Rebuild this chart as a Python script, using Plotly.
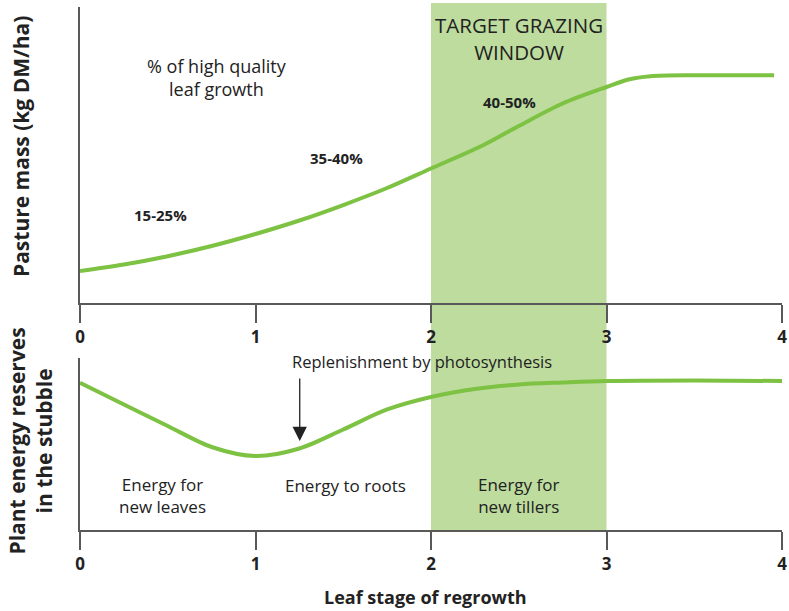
import plotly.graph_objects as go

# Data
leaf_stage_top = [0, 0.25, 0.5, 0.75, 1.0, 1.25, 1.5, 1.75, 2.0, 2.3, 2.5, 2.75, 3.0, 3.125, 3.25, 3.5, 3.75, 3.955]
pasture_mass = [32, 38.5, 46.8, 57, 69, 82.5, 98, 115, 134.5, 158, 177, 199.5, 216, 223.5, 226.8, 227.7, 227.7, 227.7]

leaf_stage_bot = [0, 0.25, 0.5, 0.75, 1.0, 1.25, 1.5, 1.75, 2.0, 2.25, 2.5, 2.75, 3.0, 3.5, 4.0]
energy_reserves = [147.3, 125.5, 104, 83, 74, 81.5, 100.5, 120.5, 133, 141, 145.5, 147.5, 149, 149.5, 149]

tick_vals = [0, 1, 2, 3, 4]
tick_text = ["0", "1", "2", "3", "4"]

window_start, window_end = 2, 3

GREEN = "#7DC242"
FILL = "#BDDC9E"
AXIS = "#595959"
TXT = "#222222"
FONT = "Open Sans"

fig = go.Figure()
fig.add_trace(go.Scatter(x=leaf_stage_top, y=pasture_mass, mode="lines",
                         line=dict(color=GREEN, width=4, shape="spline", smoothing=0.9),
                         xaxis="x", yaxis="y", hoverinfo="skip", showlegend=False))
fig.add_trace(go.Scatter(x=leaf_stage_bot, y=energy_reserves, mode="lines",
                         line=dict(color=GREEN, width=4, shape="spline", smoothing=0.9),
                         xaxis="x2", yaxis="y2", hoverinfo="skip", showlegend=False))

xcommon = dict(range=[0, 4], tickvals=tick_vals, ticktext=tick_text, showline=True,
               linecolor=AXIS, linewidth=1.5, ticks="outside", ticklen=18, tickwidth=1.5,
               tickcolor=AXIS, showgrid=False, zeroline=False, automargin=False,
               tickfont=dict(family=FONT, size=17, color=TXT, weight="bold"))
ycommon = dict(showline=True, linecolor=AXIS, linewidth=1.5, showticklabels=False,
               ticks="", showgrid=False, zeroline=False, automargin=False)

fig.update_layout(
    width=789, height=611,
    margin=dict(l=80, r=7, t=7, b=81, autoexpand=False),
    paper_bgcolor="white", plot_bgcolor="rgba(0,0,0,0)",
    xaxis=dict(domain=[0, 1], anchor="y", **xcommon),
    yaxis=dict(domain=[0.434, 1], range=[0, 296], anchor="x", **ycommon),
    xaxis2=dict(domain=[0, 1], anchor="y2", **xcommon),
    yaxis2=dict(domain=[0, 0.3289], range=[0, 172], anchor="x2", **ycommon),
    font=dict(family=FONT, color=TXT),
)

fig.add_shape(type="rect", xref="x", yref="paper", x0=window_start, x1=window_end,
              y0=0, y1=1.0076, fillcolor=FILL, line=dict(width=0), layer="below")

def ann(text, x, y, xref="x", yref="y", size=17, bold=False, **kw):
    fig.add_annotation(text=text, x=x, y=y, xref=xref, yref=yref, showarrow=False,
                       xanchor="center", yanchor="middle",
                       font=dict(family=FONT, size=size, color=TXT,
                                 weight="bold" if bold else "normal"), **kw)

# top annotations
ann("% of high quality<br>leaf growth", 0.78, 226, size=18)
ann("15-25%", 0.46, 88, size=15, bold=True)
ann("35-40%", 1.46, 145, size=15, bold=True)
ann("40-50%", 2.45, 201, size=15, bold=True)
ann("TARGET GRAZING<br>WINDOW", 2.5, 265, size=20.5)

# bottom annotations
ann("Energy for<br>new leaves", 0.47, 34, xref="x2", yref="y2", size=17)
ann("Energy to roots", 1.51, 44, xref="x2", yref="y2", size=17)
ann("Energy for<br>new tillers", 2.5, 34, xref="x2", yref="y2", size=17)
ann("Replenishment by photosynthesis", 1.95, 168, xref="x2", yref="y2", size=16.5)

fig.add_annotation(x=1.252, y=89, xref="x2", yref="y2", ax=0, ay=-64, axref="pixel", ayref="pixel",
                   showarrow=True, arrowhead=2, arrowsize=2.2, arrowwidth=1.3, arrowcolor="#222", text="")

# axis titles
fig.add_annotation(text="Pasture mass (kg DM/ha)", xref="paper", yref="paper",
                   x=-0.084, y=0.7323, xanchor="center", yanchor="middle",
                   textangle=-90, showarrow=False,
                   font=dict(family=FONT, size=21, color=TXT, weight="bold"))
fig.add_annotation(text="Plant energy reserves<br>in the stubble", xref="paper", yref="paper",
                   x=-0.0705, y=0.1702, xanchor="center", yanchor="middle", textangle=-90, showarrow=False,
                   font=dict(family=FONT, size=21, color=TXT, weight="bold"))
fig.add_annotation(text="Leaf stage of regrowth", xref="paper", yref="paper", x=0.4917, y=-0.129,
                   xanchor="center", yanchor="middle",
                   showarrow=False, font=dict(family=FONT, size=18, color=TXT, weight="bold"))

fig.write_html("out.html", post_script="document.body.style.margin='0';",
               config={"displayModeBar": False})
